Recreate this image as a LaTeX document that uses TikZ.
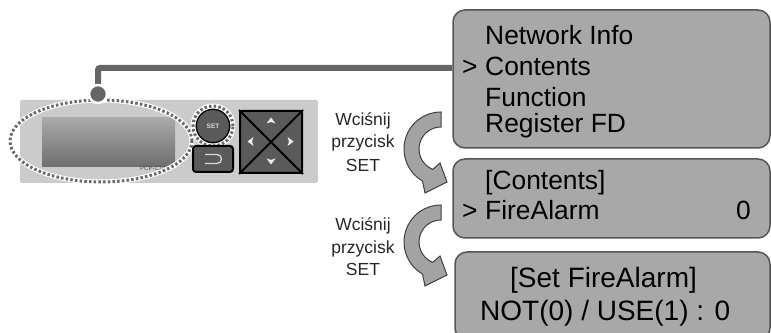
\documentclass[tikz,border=0pt]{standalone}
\usepackage{fontspec}
\setmainfont{Liberation Sans}
\usetikzlibrary{calc,positioning}
\definecolor{panelgray}{HTML}{CBCBCB}
\definecolor{lcdtop}{HTML}{A9A9A9}
\definecolor{lcdbot}{HTML}{6E6E6E}
\definecolor{keygray}{HTML}{5A5A5A}
\definecolor{screengray}{HTML}{A8A8A8}
\definecolor{edgegray}{HTML}{555555}
\definecolor{wiregray}{HTML}{666666}
\definecolor{dotgray}{HTML}{6A6A6A}
\definecolor{curlgray}{HTML}{A3A3A3}
\tikzset{%
	screen/.style   = {draw=edgegray, fill=screengray, line width=1.5pt, rounded corners=12pt, rectangle, inner sep=0pt},
	row/.style      = {font=\fontsize{26.4}{30}\selectfont, anchor=base west, inner sep=0pt},
	bigrow/.style   = {font=\fontsize{28}{32}\selectfont, anchor=base west, inner sep=0pt},
	hint/.style     = {font=\fontsize{17.5}{20}\selectfont, anchor=base, inner sep=0pt, text=black!85},
	key/.style      = {draw=black, fill=keygray, line width=2pt},
	ringdots/.style = {dotgray, line width=3pt, dash pattern=on 2.5pt off 2.2pt},
	wire/.style     = {wiregray, line width=6pt, rounded corners=2pt},
	curlarrow/.style = {draw=black!75, fill=curlgray, line width=1pt},
	padtip/.style   = {fill=white!93!black},
}

\begin{document}
\begin{tikzpicture}[x=1pt, y=1pt]
	\useasboundingbox (0,0) rectangle (771,332);
	\clip (0,0) rectangle (771,332);
	% controller front
	\node[fill=panelgray, rounded corners=2pt, minimum width=298pt, minimum height=83pt] (panel) at (169,190.5) {};
	\node[top color=lcdtop, bottom color=lcdbot, minimum width=133pt, minimum height=49pt, inner sep=0pt] (lcd) at (108.5,189.5) {};
	\node[font=\fontsize{6}{6}\selectfont, text=black!70, anchor=base west, inner sep=0pt] (model) at (140,161) {PCP-C10};
	\draw[white, line width=5pt] (101,191) ellipse[x radius=91, y radius=41];
	\draw[ringdots] (101,191) ellipse[x radius=91, y radius=41];
	% keys
	\node[key, circle, minimum size=34pt, inner sep=0pt, font=\bfseries\fontsize{6.5}{7}\selectfont, text=white!85!black] (set) at (213,206) {SET};
	\draw[white, line width=5pt] (set.center) circle[radius=20];
	\draw[ringdots] (set.center) circle[radius=20];
	\node[key, rounded corners=3pt, minimum width=40pt, minimum height=26pt] (back) at (213,173) {};
	\draw[white!85!black, line width=1.3pt] ($(back.center)+(-8,4.5)$) -- ++(12,0) arc[start angle=90, end angle=-90, radius=4.5] -- ++(-12,0);
	\node[key, rounded corners=2pt, minimum size=62pt] (pad) at (271,190) {};
	\draw[black, line width=2pt] (pad.north west) -- (pad.south east);
	\draw[black, line width=2pt] (pad.south west) -- (pad.north east);
	\foreach \ang/\px/\py in {0/271/211, 180/271/171, 90/251/190.5, -90/290/190.5}
		\fill[padtip, rotate around={\ang:(\px,\py)}] (\px,\py+3.5) -- (\px-4.5,\py-2.5) -- (\px,\py-1) -- (\px+4.5,\py-2.5) -- cycle;
	% menu screens
	\node[screen, minimum width=317pt, minimum height=138pt] (menu) at (611.5,253) {};
	\node[screen, minimum width=317pt, minimum height=79pt] (contents) at (611.5,133.5) {};
	\node[screen, minimum width=315pt, minimum height=88pt] (setfire) at (612.5,36) {};
	\node[row] (m1) at (485,287) {Network Info};
	\node[row] (m2) at (485,256) {Contents};
	\node[row] (m2sel) at (462,256) {>};
	\node[row] (m3) at (485,225) {Function};
	\node[row] (m4) at (485,199) {Register FD};
	\node[row] (c1) at (485,142) {[Contents]};
	\node[row] (c2sel) at (462,112) {>};
	\node[row] (c2) at (485,112) {FireAlarm};
	\node[row, anchor=base east] (c2val) at (751,112) {0};
	\node[bigrow] (s1) at (510,44) {[Set FireAlarm]};
	\node[bigrow] (s2) at (480,12) {NOT(0) / USE(1) : 0};
	% lead from the display to the menu
	\coordinate (hub) at (98,238);
	\draw[wire] (hub) |- ([yshift=11pt]menu.west);
	\node[circle, fill=wiregray, draw=white, line width=2.5pt, minimum size=18pt, inner sep=0pt] (knob) at (hub) {};
	% press SET hints
	\foreach \yc in {183,90}
		\draw[curlarrow, shift={(441,\yc)}] (0,37) arc[start angle=90, end angle=240, radius=37]
			-- (-16,-44) -- (6,-33) -- (-1,-14) -- (248:22) arc[start angle=248, end angle=90, radius=22] -- cycle;
	\node[hint] (h1a) at (363,206) {Wciśnij};
	\node[hint] (h1b) at (363,184) {przycisk};
	\node[hint] (h1c) at (363,160) {SET};
	\node[hint] (h2a) at (363,101) {Wciśnij};
	\node[hint] (h2b) at (363,78) {przycisk};
	\node[hint] (h2c) at (363,56) {SET};
\end{tikzpicture}
\end{document}
